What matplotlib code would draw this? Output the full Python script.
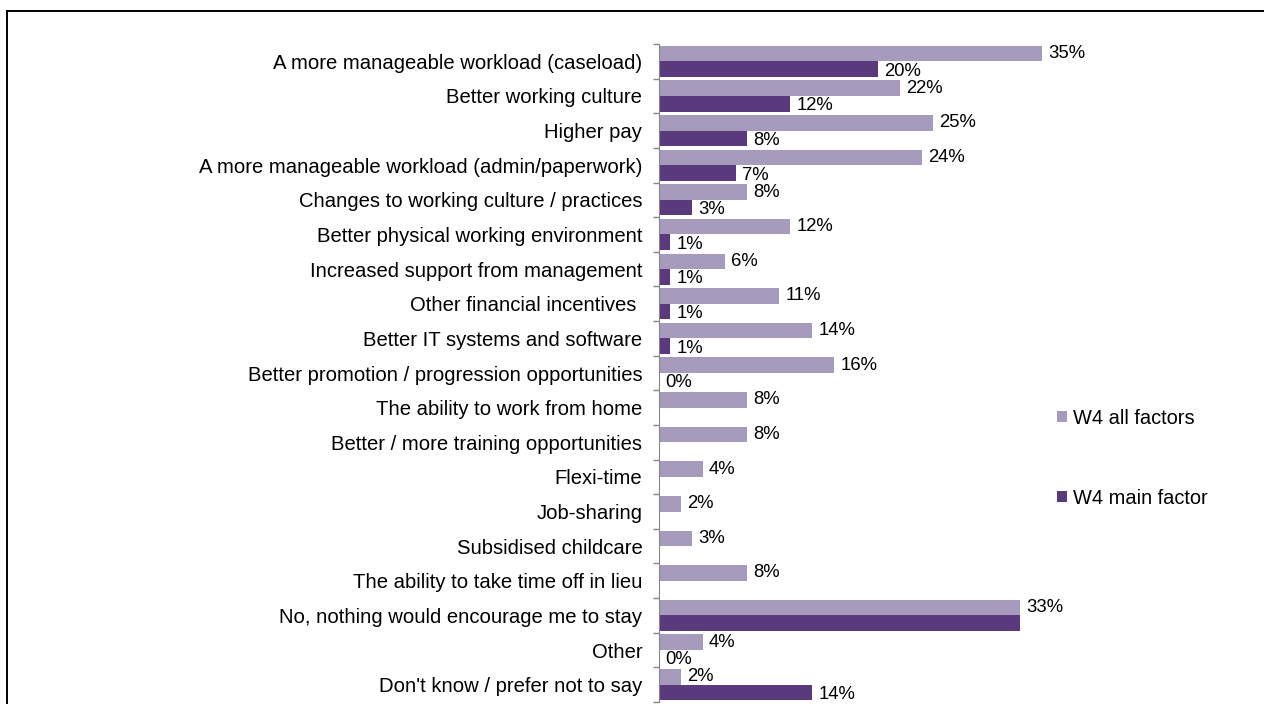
import numpy as np
import matplotlib
matplotlib.use('Agg')
import matplotlib.pyplot as plt
from matplotlib.lines import Line2D

plt.rcParams['font.family'] = ['Liberation Sans', 'DejaVu Sans']

# Reasons that would encourage staying (W4)
categories = [
    "A more manageable workload (caseload)",
    "Better working culture",
    "Higher pay",
    "A more manageable workload (admin/paperwork)",
    "Changes to working culture / practices",
    "Better physical working environment",
    "Increased support from management",
    "Other financial incentives ",
    "Better IT systems and software",
    "Better promotion / progression opportunities",
    "The ability to work from home",
    "Better / more training opportunities",
    "Flexi-time",
    "Job-sharing",
    "Subsidised childcare",
    "The ability to take time off in lieu",
    "No, nothing would encourage me to stay",
    "Other",
    "Don't know / prefer not to say",
]
all_factors = [35, 22, 25, 24, 8, 12, 6, 11, 14, 16, 8, 8, 4, 2, 3, 8, 33, 4, 2]
# None = not asked as a main factor (no bar, no label)
main_factor = [20, 12, 8, 7, 3, 1, 1, 1, 1, 0, None, None, None, None, None, None, 33, 0, 14]
# the 33% label on the main-factor bar is not shown in the original
main_label_shown = [True] * 16 + [False, True, True]

light = '#A69BBD'
dark = '#5A3A7C'

fig = plt.figure(figsize=(12.64, 7.04), dpi=100)
W, H = 1264, 704
ax = fig.add_axes([659 / W, 1 - 702 / H, 438 / W, (702 - 44) / H])

n = len(categories)
y = np.arange(n)
bh = 0.45

ax.barh(y - bh / 2, all_factors, height=bh, color=light, label='W4 all factors')
main_vals = [v if v is not None else 0 for v in main_factor]
ax.barh(y + bh / 2, main_vals, height=bh, color=dark, label='W4 main factor')

for i in range(n):
    ax.annotate(f"{all_factors[i]}%", (all_factors[i], y[i] - bh / 2), xytext=(4.5, 0),
                textcoords='offset points', va='center', ha='left', fontsize=13.3)
    if main_factor[i] is not None and main_label_shown[i]:
        ax.annotate(f"{main_factor[i]}%", (main_factor[i], y[i] + bh / 2), xytext=(4.5, -1.5),
                    textcoords='offset points', va='center', ha='left', fontsize=13.3)

ax.set_xlim(0, 40)
ax.set_ylim(n - 0.5, -0.5)
ax.set_yticks(y)
ax.set_yticklabels(categories, fontsize=14.6)
ax.set_yticks(np.arange(n + 1) - 0.5, minor=True)
ax.tick_params(axis='y', which='major', length=0, pad=12)
ax.tick_params(axis='y', which='minor', length=4, color='#868686', width=1)
ax.set_xticks([])
for s in ['top', 'right', 'bottom']:
    ax.spines[s].set_visible(False)
ax.spines['left'].set_color('#868686')

handles, labels = ax.get_legend_handles_labels()
fig.legend(handles, labels, loc='center left', bbox_to_anchor=(1039 / W, 1 - 458 / H),
           frameon=False, fontsize=14.4, handlelength=0.5, handleheight=0.5,
           handletextpad=0.3, labelspacing=3.05)

# outer frame (top and left edges visible)
fig.add_artist(Line2D([7 / W, 7 / W], [0, 1 - 11 / H], transform=fig.transFigure, color='black', lw=1.4))
fig.add_artist(Line2D([7 / W, 1], [1 - 11 / H, 1 - 11 / H], transform=fig.transFigure, color='black', lw=1.4))

fig.savefig('out.png', dpi=100)
